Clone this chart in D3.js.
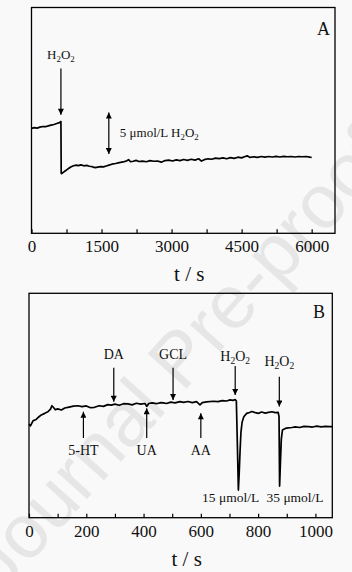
<!DOCTYPE html>
<html>
<head>
<meta charset="utf-8">
<script src="https://cdn.jsdelivr.net/npm/d3@7"></script>
<style>
  body { margin: 0; background: #f9f9f9; }
  svg { display: block; }
</style>
</head>
<body>
<svg id="chart"></svg>
<script>
// Panel A: long-term stability trace (t in s, current in a.u.)
const tA = [0, 60, 120, 180, 240, 300, 360, 420, 480, 540, 600, 630, 636, 645, 680, 720, 760, 800, 850, 900,
  960, 1000, 1060, 1120, 1180, 1240, 1300, 1360, 1420, 1480, 1540, 1600, 1660, 1720, 1800, 1880, 1960, 2040, 2080, 2120,
  2180, 2240, 2300, 2380, 2460, 2540, 2620, 2700, 2780, 2860, 2940, 3020, 3100, 3180, 3260, 3340, 3420, 3500, 3580, 3640,
  3700, 3780, 3860, 3940, 4020, 4100, 4180, 4260, 4340, 4420, 4500, 4560, 4620, 4680, 4760, 4840, 4920, 5000, 5080, 5160,
  5240, 5320, 5400, 5480, 5560, 5640, 5720, 5800, 5880, 5960, 6000];
const iA = [46.5, 46.8, 46.6, 47.0, 47.3, 47.2, 47.6, 47.9, 48.2, 48.6, 49.0, 49.5, 26.6, 26.4, 27.0, 27.6, 28.2, 28.8, 29.5, 29.9,
  30.2, 30.0, 30.3, 29.9, 30.1, 29.7, 29.5, 29.1, 29.3, 29.5, 29.4, 29.8, 30.2, 30.6, 30.9, 31.3, 31.6, 32.1, 32.6, 31.7,
  31.9, 32.3, 31.8, 32.0, 31.7, 32.2, 31.9, 32.0, 31.5, 32.2, 32.4, 32.0, 32.5, 32.2, 32.7, 32.3, 32.8, 32.4, 33.0, 32.0,
  32.6, 33.0, 32.8, 33.3, 33.1, 33.4, 33.0, 33.5, 33.2, 33.7, 33.4, 33.9, 34.3, 33.6, 33.9, 33.6, 34.0, 33.7, 34.0, 33.8,
  34.1, 33.8, 34.1, 33.9, 34.0, 33.8, 34.0, 33.9, 34.0, 33.7, 33.6];

// Panel B: interference test trace
const tB = [0, 5, 14, 25, 35, 43, 55, 66, 75, 80, 85, 92, 100, 113, 125, 140, 155, 171, 185, 200,
  215, 229, 245, 260, 275, 287, 300, 315, 330, 346, 360, 375, 390, 405, 411, 418, 430, 445, 460, 469,
  480, 495, 510, 527, 540, 555, 570, 585, 597, 605, 620, 644, 660, 675, 690, 702, 712, 720, 724, 728,
  731, 734, 737, 740, 744, 750, 760, 770, 778, 790, 801, 812, 825, 836, 848, 860, 870, 873, 875, 878,
  881, 885, 895, 905, 918, 930, 945, 960, 976, 990, 1005, 1020, 1035, 1050, 1059];
const iB = [41.8, 40.9, 43.2, 43.8, 45.0, 45.8, 46.5, 47.2, 48.4, 49.9, 49.2, 48.1, 48.5, 48.0, 48.9, 49.3, 49.7, 49.9, 49.5, 49.8,
  49.0, 49.2, 49.9, 49.6, 50.4, 50.2, 50.6, 50.1, 50.8, 50.7, 50.3, 51.0, 50.6, 50.9, 49.6, 50.9, 51.2, 50.8, 51.3, 51.2,
  50.9, 51.5, 51.2, 51.7, 51.4, 51.8, 51.3, 51.7, 50.3, 51.3, 51.6, 51.9, 51.7, 52.2, 52.0, 52.5, 52.3, 52.6, 52.0, 30.0,
  12.3, 20.0, 30.0, 38.0, 42.5, 45.0, 46.5, 46.9, 47.3, 46.8, 46.5, 47.1, 46.6, 46.9, 47.2, 46.8, 46.9, 45.0, 14.1, 25.0,
  35.0, 39.1, 39.8, 40.0, 40.2, 40.5, 40.2, 40.7, 40.6, 40.4, 40.8, 40.5, 40.7, 40.6, 40.6];

// tick values and labels
const ticksA = d3.range(0, 6001, 750);
const labelStepA = 1500;
const ticksB = d3.range(0, 1001, 100);
const labelStepB = 200;

// annotations (times in s)
const injectA = 630;
const stepBarA = 1656;
const downLabelsB = ["DA", "GCL", "H2O2", "H2O2"];
const downTB = [296, 503, 720, 874];
const upLabelsB = ["5-HT", "UA", "AA"];
const upTB = [190, 411, 600];
const spikeLabelsB = ["15 μmol/L", "35 μmol/L"];
const spikeLabelTB = [704, 929];

const W = 352, H = 572;
const font = "Liberation Serif, serif";

const svg = d3.select("#chart").attr("width", W).attr("height", H)
  .attr("font-family", font);

svg.append("rect").attr("width", W).attr("height", H).attr("fill", "#f9f9f9");

// watermark
svg.append("text")
  .attr("transform", "translate(198,376) rotate(-48)")
  .attr("text-anchor", "middle")
  .attr("font-family", "Liberation Sans, sans-serif")
  .attr("font-size", 76)
  .attr("fill", "#e6e6e6")
  .text("Journal Pre-proof");

// arrow head marker
svg.append("defs").append("marker")
  .attr("id", "head")
  .attr("viewBox", "0 -5 10 10")
  .attr("refX", 10).attr("refY", 0)
  .attr("markerUnits", "userSpaceOnUse")
  .attr("markerWidth", 7).attr("markerHeight", 6)
  .attr("orient", "auto-start-reverse")
  .append("path").attr("d", "M0,-5L10,0L0,5Z").attr("fill", "#000");

// write H2O2 with subscripts
function h2o2(sel, size) {
  const s = size * 0.68;
  sel.append("tspan").attr("font-size", size).text("H");
  sel.append("tspan").attr("font-size", s).attr("dy", 3).text("2");
  sel.append("tspan").attr("font-size", size).attr("dy", -3).text("O");
  sel.append("tspan").attr("font-size", s).attr("dy", 3).text("2");
}

function arrow(g, x, y1, y2, both) {
  const l = g.append("line")
    .attr("x1", x).attr("x2", x).attr("y1", y1).attr("y2", y2)
    .attr("stroke", "#000").attr("stroke-width", 1.2)
    .attr("marker-end", "url(#head)");
  if (both) l.attr("marker-start", "url(#head)");
}

function panel(box, domainX, ticks, step, t, v, letter, letterPos) {
  const x = d3.scaleLinear().domain(domainX).range([box.left, box.right]);
  const y = d3.scaleLinear().domain([0, 100]).range([box.bottom, box.top]);
  const g = svg.append("g");

  // x axis, ticks pointing inward
  const ax = g.append("g")
    .attr("transform", "translate(0," + box.bottom + ")")
    .call(d3.axisBottom(x).tickValues(ticks).tickSizeInner(-4).tickSizeOuter(0).tickPadding(7)
      .tickFormat(d => d % step === 0 ? d : ""))
    .attr("font-family", font).attr("font-size", 17);
  ax.select(".domain").remove();
  ax.selectAll("line").attr("stroke", "#000").attr("stroke-width", 1.2);
  ax.selectAll("text").attr("fill", "#111");

  g.append("text")
    .attr("x", (box.left + box.right) / 2 + 6).attr("y", box.bottom + 48)
    .attr("text-anchor", "middle").attr("font-size", 21).attr("fill", "#111")
    .text("t / s");

  // trace
  const line = d3.line().x((d, i) => x(t[i])).y(d => y(d));
  g.append("path").datum(v)
    .attr("d", line)
    .attr("fill", "none").attr("stroke", "#000")
    .attr("stroke-width", 1.7).attr("stroke-linejoin", "round");

  // frame
  g.append("rect")
    .attr("x", box.left).attr("y", box.top)
    .attr("width", box.right - box.left).attr("height", box.bottom - box.top)
    .attr("fill", "none").attr("stroke", "#000").attr("stroke-width", 1.3);

  g.append("text").attr("x", letterPos[0]).attr("y", letterPos[1])
    .attr("font-size", 18).attr("fill", "#111").text(letter);

  return { g, x, y };
}

// ---- Panel A ----
const A = panel({ left: 31.5, right: 335, top: 7.5, bottom: 233.3 }, [0, 6500],
  ticksA, labelStepA, tA, iA, "A", [317, 35]);

A.g.append("text").attr("x", A.x(injectA)).attr("y", A.y(77.3))
  .attr("text-anchor", "middle").attr("fill", "#111").call(h2o2, 13);
arrow(A.g, A.x(injectA), A.y(73), A.y(52.5));

arrow(A.g, A.x(stepBarA), A.y(53.5), A.y(35.1), true);
const stepText = A.g.append("text").attr("x", A.x(stepBarA) + 11).attr("y", A.y(42.6))
  .attr("fill", "#111");
stepText.append("tspan").attr("font-size", 13).text("5 μmol/L ");
h2o2(stepText, 13);

// ---- Panel B ----
const B = panel({ left: 29, right: 332.3, top: 293.3, bottom: 517.7 }, [0, 1059],
  ticksB, labelStepB, tB, iB, "B", [313, 318]);

const downLabelV = [70.7, 70.7, 69.8, 67.6];
const downTailV = [66.8, 66.8, 67.6, 62.8];
const downTipV = [51.7, 52.5, 54.7, 49.5];
downLabelsB.forEach((lab, i) => {
  const txt = B.g.append("text").attr("x", B.x(downTB[i])).attr("y", B.y(downLabelV[i]))
    .attr("text-anchor", "middle").attr("fill", "#111");
  if (lab === "H2O2") txt.call(h2o2, 14);
  else txt.attr("font-size", 14).text(lab);
  arrow(B.g, B.x(downTB[i]), B.y(downTailV[i]), B.y(downTipV[i]));
});

const upTipV = [47.2, 48.8, 46.5];
upLabelsB.forEach((lab, i) => {
  arrow(B.g, B.x(upTB[i]), B.y(35.5), B.y(upTipV[i]));
  B.g.append("text").attr("x", B.x(upTB[i])).attr("y", B.y(27.9))
    .attr("text-anchor", "middle").attr("font-size", 14).attr("fill", "#111").text(lab);
});

spikeLabelsB.forEach((lab, i) => {
  B.g.append("text").attr("x", B.x(spikeLabelTB[i])).attr("y", B.y(7.0))
    .attr("text-anchor", "middle").attr("font-size", 13.5).attr("fill", "#111").text(lab);
});
</script>
</body>
</html>
